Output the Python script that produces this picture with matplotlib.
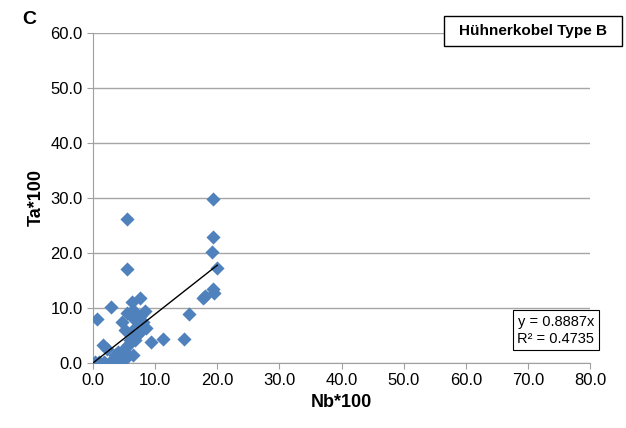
import matplotlib.pyplot as plt
from matplotlib.patches import Rectangle
import numpy as np

plt.rcParams['font.family'] = ['Liberation Sans', 'DejaVu Sans']

# Dados (Nb*100, Ta*100)
nb = [5.5, 5.4, 19.3, 19.3, 19.2, 20.0, 19.3, 19.5, 18.0, 17.7, 15.5, 14.7,
      11.3, 9.3, 8.5, 8.3, 7.6, 6.4, 6.3, 2.9, 0.6, 1.6, 2.3, 0.3, 1.0, 1.8,
      2.7, 4.3, 4.3, 4.7, 5.0, 5.3, 5.6, 5.5, 6.4, 6.0, 6.4, 7.1, 7.6, 7.1,
      7.6, 6.8, 5.2, 4.0, 3.5, 5.5, 6.4, 8.0]
ta = [26.2, 17.0, 29.8, 22.9, 20.2, 17.3, 13.5, 12.7, 12.2, 11.8, 8.9, 4.4,
      4.4, 3.8, 6.4, 9.5, 11.8, 8.2, 11.1, 10.2, 8.0, 3.3, 2.5, 0.2, 0.2, 0.2,
      0.2, 0.0, 1.5, 7.5, 2.2, 2.9, 3.3, 1.1, 1.5, 4.2, 6.0, 6.5, 8.5, 5.1,
      5.6, 4.2, 6.0, 2.0, 1.5, 9.1, 9.6, 7.5]
slope = 0.8887
r2 = 0.4735

fig = plt.figure(figsize=(6.26, 4.28), dpi=100)
ax = fig.add_axes([0.1486, 0.152, 0.794, 0.771])

ax.scatter(nb, ta, marker='D', s=52, color='#4F81BD', zorder=3, linewidths=0)

# linha de tendência (pela origem)
xl = np.array([0, max(nb)])
ax.plot(xl, slope * xl, color='black', lw=1, zorder=4)

ax.set_xlim(0, 80)
ax.set_ylim(0, 60)
ax.set_xticks(np.arange(0, 81, 10))
ax.set_yticks(np.arange(0, 61, 10))
ax.set_xticklabels([f'{v:.1f}' for v in np.arange(0, 81, 10)])
ax.set_yticklabels([f'{v:.1f}' for v in np.arange(0, 61, 10)])
ax.tick_params(labelsize=12, color='#A0A0A0', length=4)
ax.yaxis.grid(True, color='#A6A6A6', lw=1)
ax.set_axisbelow(True)
for s in ['top', 'right']:
    ax.spines[s].set_visible(False)
for s in ['left', 'bottom']:
    ax.spines[s].set_color('#A0A0A0')

ax.set_xlabel('Nb*100', fontsize=13, fontweight='bold')
ax.set_ylabel('Ta*100', fontsize=13, fontweight='bold')

fig.text(0.035, 0.955, 'C', fontsize=14, fontweight='bold', va='center')

# caixa do título
fig.patches.append(Rectangle((0.709, 0.8925), 0.284, 0.070, transform=fig.transFigure,
                             fc='white', ec='black', lw=1, zorder=5))
fig.text(0.8515, 0.9276, 'Hühnerkobel Type B', fontsize=11, fontweight='bold',
         ha='center', va='center', zorder=6)

fig.text(0.888, 0.228, f'y = {slope}x\nR² = {r2}', fontsize=10.5,
         ha='center', va='center', linespacing=1.3,
         bbox=dict(boxstyle='square,pad=0.3', fc='white', ec='black', lw=0.8))

plt.savefig('out.png', dpi=100)
